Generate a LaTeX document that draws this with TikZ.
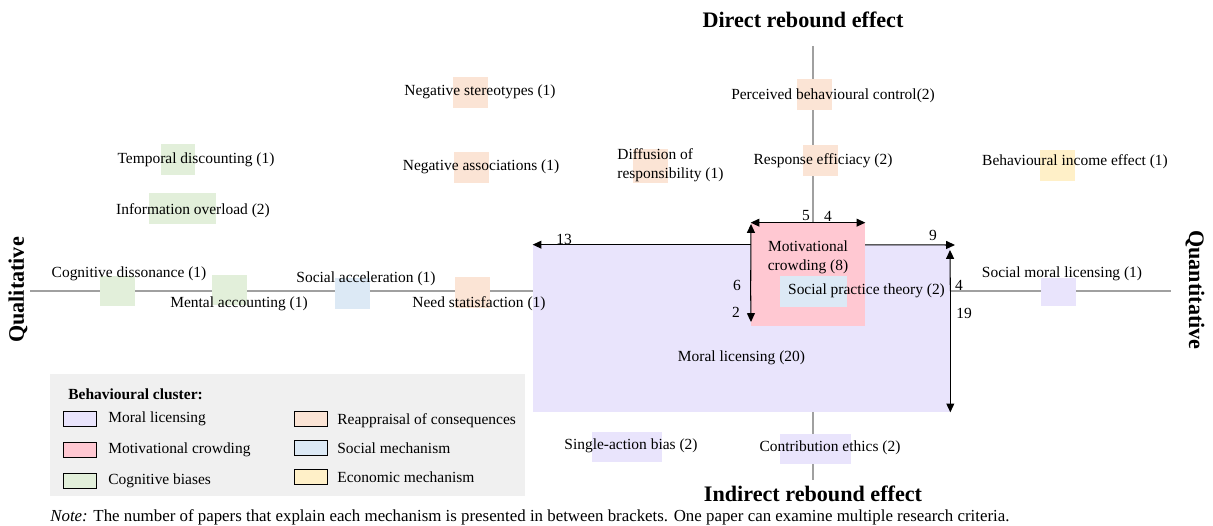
\documentclass[tikz,border=0pt]{standalone}
\usepackage{fontspec}
\setmainfont{Liberation Serif}
\usetikzlibrary{arrows.meta}
\definecolor{mlcol}{RGB}{233,228,252}
\definecolor{mccol}{RGB}{255,200,210}
\definecolor{smcol}{RGB}{220,233,245}
\definecolor{cbcol}{RGB}{226,239,218}
\definecolor{rccol}{RGB}{251,228,213}
\definecolor{emcol}{RGB}{255,240,200}
\definecolor{keybg}{RGB}{240,240,240}
\definecolor{axcol}{RGB}{160,160,160}

\begin{document}
\begin{tikzpicture}[x=0.02cm, y=-0.02cm,
        txt/.style={font=\fontsize{8.8}{10.6}\selectfont, inner sep=0pt},
        big/.style={font=\bfseries\fontsize{12.6}{14}\selectfont, inner sep=0pt},
        sq/.style={inner sep=0pt, minimum width=0.7cm, minimum height=0.62cm},
        wide/.style={sq, minimum width=1.38cm},
        key/.style={draw, line width=0.8pt, inner sep=0pt, minimum width=0.66cm, minimum height=0.3cm},
        axis/.style={draw=axcol, line width=0.8pt},
        arr/.style={-{Triangle[length=5pt, width=4.5pt]}, line width=0.6pt}]
        \useasboundingbox (0, 0) rectangle (1213, 526);
        % axes
        \coordinate (top) at (813, 46);
        \coordinate (bot) at (813, 480);
        \coordinate (lft) at (30, 291);
        \coordinate (rgt) at (1171, 291);
        \coordinate (o) at (813, 291);
        \draw [axis] (top) -- (bot);
        \draw [axis] (lft) -- (rgt);
        \node (dre) [big] at (803, 20) {Direct rebound effect};
        \node (ire) [big] at (813, 494) {Indirect rebound effect};
        \node (qual) [big, rotate=90] at (18, 290) {Qualitative};
        \node (quan) [big, rotate=-90] at (1195, 290) {Quantitative};

        % clusters
        \node (ml) [fill=mlcol, inner sep=0pt, minimum width=8.34cm, minimum height=3.34cm] at (741.5, 328.5) {};
        \coordinate (q9) at (955, 245);
        \draw [arr] (o |- ml.north) -- (ml.north west);
        \draw [arr] (o |- ml.north) -- (q9);
        \node (mc) [fill=mccol, inner sep=0pt, minimum width=2.28cm, minimum height=2.06cm] at (808, 274.5) {};
        \node (spt) [fill=smcol, sq, minimum width=1.34cm] at (813.5, 291.5) {};
        \node (mltx) [txt] at (741.5, 358) {Moral licensing (20)};
        \node (mctx) [txt, align=center] at (808, 257) {Motivational\\crowding (8)};
        \node (spttx) [txt] at (866.5, 291) {Social practice theory (2)};

        % counts
        \coordinate (q6) at (751, 224);
        \coordinate (q2) at (751, 322);
        \coordinate (q4) at (950, 250);
        \draw [arr] (o |- mc.north) -- (mc.north west);
        \draw [arr] (o |- mc.north) -- (mc.north east);
        \draw [arr] (mc.west |- o) -- (q6);
        \draw [arr] (mc.west |- o) -- (q2);
        \draw [arr] (ml.east |- o) -- (q4);
        \draw [arr] (ml.east |- o) -- (ml.south east);
        \node (n13) [txt] at (564, 239) {13};
        \node (n9) [txt] at (933, 235) {9};
        \node (n5) [txt] at (806, 216) {5};
        \node (n4a) [txt] at (828, 216) {4};
        \node (n6) [txt] at (737, 285) {6};
        \node (n2) [txt] at (736, 312) {2};
        \node (n4b) [txt] at (959, 285) {4};
        \node (n19) [txt] at (964, 313) {19};

        % mechanisms
        \node (s1) [sq, fill=cbcol] at (178, 160) {};
        \node (s2) [wide, fill=cbcol, minimum width=1.34cm] at (182.5, 209) {};
        \node (s3) [sq, fill=cbcol] at (117.5, 291) {};
        \node (s4) [sq, fill=cbcol] at (229.5, 290) {};
        \node (s5) [sq, fill=smcol] at (352.5, 293.5) {};
        \node (s6) [sq, fill=rccol] at (472, 292.5) {};
        \node (s7) [sq, fill=rccol] at (470, 93) {};
        \node (s8) [sq, fill=rccol] at (471, 167.5) {};
        \node (s9) [sq, fill=rccol, minimum height=0.68cm] at (650, 166) {};
        \node (s10) [sq, fill=rccol] at (814.5, 95) {};
        \node (s11) [sq, fill=rccol] at (820, 161) {};
        \node (s12) [sq, fill=emcol] at (1057, 166) {};
        \node (s13) [sq, fill=mlcol, minimum height=0.58cm] at (1058, 292) {};
        \node (s14) [wide, fill=mlcol, minimum width=1.4cm] at (627, 447) {};
        \node (s15) [wide, fill=mlcol, minimum width=1.42cm] at (815, 449) {};
        \node (t1) [txt] at (196, 160) {Temporal discounting (1)};
        \node (t2) [txt] at (193, 211) {Information overload (2)};
        \node (t3) [txt] at (129, 274) {Cognitive dissonance (1)};
        \node (t4) [txt] at (239, 304) {Mental accounting (1)};
        \node (t5) [txt] at (366, 279) {Social acceleration (1)};
        \node (t6) [txt] at (479, 304) {Need statisfaction (1)};
        \node (t7) [txt] at (480, 92) {Negative stereotypes (1)};
        \node (t8) [txt] at (481, 167) {Negative associations (1)};
        \node (t9) [txt, align=left, anchor=west] at (617, 165) {Diffusion of\\responsibility (1)};
        \node (t10) [txt] at (833, 96) {Perceived behavioural control(2)};
        \node (t11) [txt] at (823, 161) {Response efficiacy (2)};
        \node (t12) [txt] at (1075, 162) {Behavioural income effect (1)};
        \node (t13) [txt] at (1062, 274) {Social moral licensing (1)};
        \node (t14) [txt] at (631, 446) {Single-action bias (2)};
        \node (t15) [txt] at (830, 448) {Contribution ethics (2)};

        % legend
        \node (lgd) [fill=keybg, inner sep=0pt, minimum width=9.5cm, minimum height=2.44cm] at (287.5, 435) {};
        \node (lgdt) [txt, font=\bfseries\fontsize{8.8}{10.6}\selectfont, anchor=west] at (68, 394) {Behavioural cluster:};
        \node (k1) [key, fill=mlcol] at (80, 419) {};
        \node (k2) [key, fill=mccol] at (80, 450) {};
        \node (k3) [key, fill=cbcol] at (80, 481) {};
        \node (k4) [key, fill=rccol] at (311, 419) {};
        \node (k5) [key, fill=smcol] at (311, 448) {};
        \node (k6) [key, fill=emcol] at (311, 477) {};
        \node (kt1) [txt, anchor=west] at (108, 419) {Moral licensing};
        \node (kt2) [txt, anchor=west] at (108, 450) {Motivational crowding};
        \node (kt3) [txt, anchor=west] at (108, 481) {Cognitive biases};
        \node (kt4) [txt, anchor=west] at (337, 421) {Reappraisal of consequences};
        \node (kt5) [txt, anchor=west] at (337, 448) {Social mechanism};
        \node (kt6) [txt, anchor=west] at (337, 477) {Economic mechanism};

        \node (note) [txt, font=\fontsize{9.6}{11}\selectfont, anchor=west] at (50, 517) {\textit{Note:} The number of papers that explain each mechanism is presented in between brackets. One paper can examine multiple research criteria.};
    \end{tikzpicture}
\end{document}
